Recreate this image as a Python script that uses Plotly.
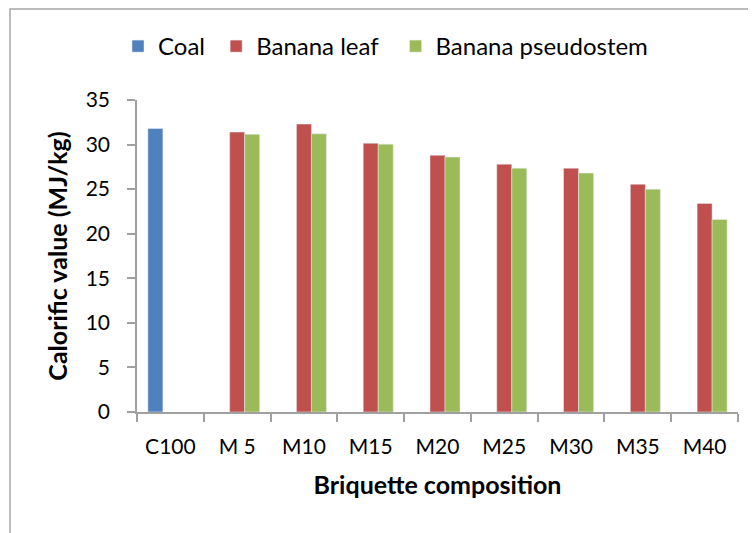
import plotly.graph_objects as go

categories = ["C100", "M 5", "M10", "M15", "M20", "M25", "M30", "M35", "M40"]
coal = [31.8, None, None, None, None, None, None, None, None]
banana_leaf = [None, 31.4, 32.3, 30.15, 28.8, 27.8, 27.35, 25.55, 23.4]
banana_pseudostem = [None, 31.15, 31.2, 30.05, 28.6, 27.35, 26.8, 25.0, 21.6]
series_names = ["Coal", "Banana leaf", "Banana pseudostem"]

FONT = "Lato"
# page has an 8px body margin; figure sized to fit the window
W, H = 748, 525
ML, MR, MT, MB = 129, 18, 92, 121
PW = W - ML - MR
PH = H - MT - MB

NB = "\u00a0"
fig = go.Figure()
fig.add_trace(go.Bar(name=series_names[0] + NB, x=categories, y=coal, marker_color="#4F81BD"))
fig.add_trace(go.Bar(name=series_names[1] + NB * 2, x=categories, y=banana_leaf, marker_color="#C0504D"))
fig.add_trace(go.Bar(name=series_names[2], x=categories, y=banana_pseudostem, marker_color="#9BBB59"))

fig.update_layout(
    width=W, height=H,
    margin=dict(l=ML, r=MR, t=MT, b=MB, pad=0),
    paper_bgcolor="white", plot_bgcolor="white",
    barmode="group", bargap=0.326, bargroupgap=0,
    font=dict(family=FONT, size=21, color="black"),
    legend=dict(orientation="h", x=(110 - ML) / PW, y=1 + (MT - 38.5) / PH,
                xanchor="left", yanchor="middle",
                font=dict(family=FONT, size=24, color="black"),
                bgcolor="rgba(0,0,0,0)"),
    shapes=[dict(type="rect", xref="paper", yref="paper",
                 x0=(2 - ML) / PW, x1=(W + 20 - ML) / PW,
                 y0=-(H + 20 - MT - PH) / PH, y1=1 + (MT - 1) / PH,
                 line=dict(color="#a6a6a6", width=1.5), fillcolor="rgba(0,0,0,0)",
                 layer="below")],
)
fig.update_xaxes(
    showline=True, linecolor="#a0a0a0", linewidth=1.5,
    ticks="outside", tickson="boundaries", ticklen=8, tickcolor="#a0a0a0", tickwidth=1.5,
    showgrid=False, ticklabelstandoff=15,
    tickfont=dict(family=FONT, size=21),
    title=dict(text="<b>Briquette composition</b>", font=dict(family=FONT, size=25), standoff=20),
)
fig.update_yaxes(
    range=[0, 35], dtick=5, showline=True, linecolor="#a0a0a0", linewidth=1.5,
    ticks="outside", ticklen=8, tickcolor="#a0a0a0", tickwidth=1.5,
    showgrid=False, zeroline=False, ticklabelstandoff=13,
    tickfont=dict(family=FONT, size=21),
    title=dict(text="<b>Calorific value (MJ/kg)</b>", font=dict(family=FONT, size=25), standoff=11),
)
fig.write_html("out.html")
